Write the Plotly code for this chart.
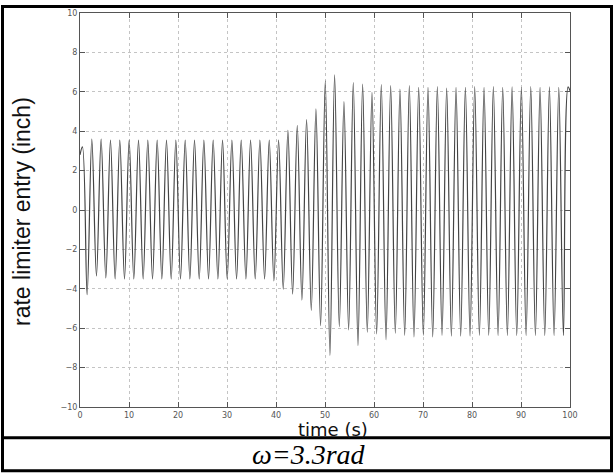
import plotly.graph_objects as go

# Extrema (time in s, value in inch)
start_time = [0.0]
start_value = [2.8]

peak_times = [0.50, 2.41, 4.31, 6.22, 8.12, 10.03, 11.94, 13.84, 15.75, 17.65,
              19.56, 21.47, 23.37, 25.28, 27.18, 29.09, 31.00, 32.90, 34.81, 36.71,
              38.62, 40.53, 42.43, 44.34, 46.24, 48.15, 50.06, 51.96, 53.87, 55.77,
              57.68, 59.59, 61.49, 63.40, 65.30, 67.21, 69.12, 71.02, 72.93, 74.83,
              76.74, 78.65, 80.55, 82.46, 84.36, 86.27, 88.18, 90.08, 91.99, 93.89,
              95.80, 97.71, 99.61]
peak_values = [3.2, 3.6, 3.6, 3.55, 3.55, 3.55, 3.55, 3.55, 3.55, 3.55,
               3.55, 3.55, 3.55, 3.55, 3.55, 3.55, 3.55, 3.55, 3.55, 3.55,
               3.55, 3.55, 4.04, 4.29, 4.59, 5.13, 6.56, 6.86, 5.50, 6.47,
               6.39, 5.97, 6.37, 6.31, 6.14, 6.31, 6.22, 6.22, 6.27, 6.19,
               6.22, 6.22, 6.27, 6.22, 6.27, 6.22, 6.25, 6.22, 6.27, 6.22,
               6.25, 6.22, 6.25]

min_times = [1.45, 3.36, 5.27, 7.17, 9.08, 10.98, 12.89, 14.80, 16.70, 18.61,
             20.51, 22.42, 24.33, 26.23, 28.14, 30.04, 31.95, 33.86, 35.76, 37.67,
             39.57, 41.48, 43.39, 45.29, 47.20, 49.10, 51.01, 52.92, 54.82, 56.73,
             58.63, 60.54, 62.45, 64.35, 66.26, 68.16, 70.07, 71.98, 73.88, 75.79,
             77.69, 79.60, 81.51, 83.41, 85.32, 87.22, 89.13, 91.04, 92.94, 94.85,
             96.75, 98.66]
min_values = [-4.3, -3.35, -3.45, -3.5, -3.5, -3.5, -3.5, -3.5, -3.5, -3.5,
              -3.5, -3.5, -3.5, -3.5, -3.5, -3.5, -3.5, -3.5, -3.5, -3.5,
              -3.6, -4.02, -4.27, -4.57, -5.1, -5.87, -7.38, -5.92, -6.09, -6.88,
              -6.2, -6.29, -6.59, -6.25, -6.36, -6.44, -6.36, -6.44, -6.36, -6.4,
              -6.4, -6.4, -6.36, -6.36, -6.37, -6.37, -6.37, -6.37, -6.37, -6.37,
              -6.37, -6.37]

end_time = [100.0]
end_value = [6.05]

x_ticks = [0, 10, 20, 30, 40, 50, 60, 70, 80, 90, 100]
y_ticks = [-10, -8, -6, -4, -2, 0, 2, 4, 6, 8, 10]

x_title = "time (s)"
y_title = "rate limiter entry (inch)"
caption = "ω=3.3rad"

# interleave extrema into one trace
t = list(start_time)
v = list(start_value)
for i in range(len(peak_times)):
    t.append(peak_times[i]); v.append(peak_values[i])
    if i < len(min_times):
        t.append(min_times[i]); v.append(min_values[i])
t += end_time
v += end_value

fig = go.Figure()
fig.add_trace(go.Scatter(x=t, y=v, mode="lines",
                         line=dict(color="#444444", width=1.2, shape="spline", smoothing=1),
                         showlegend=False, hoverinfo="skip"))

axis_common = dict(showgrid=True, gridcolor="#c4c4c4", griddash="dot", gridwidth=1,
                   zeroline=False, showline=True, linecolor="#555555", linewidth=1,
                   mirror="ticks", ticks="inside", ticklen=5, tickcolor="#555555",
                   tickfont=dict(family="DejaVu Sans", size=8, color="#555555"))

fig.update_xaxes(range=[0, 100], tickvals=x_ticks, **axis_common)
fig.update_yaxes(range=[-10, 10], tickvals=y_ticks, **axis_common)

# map pixel coordinates to paper coordinates (plot area 80..570 x, 9..407 y)
L, R, T, B = 80, 570, 9, 407
def px(xp):
    return (xp - L) / (R - L)
def py(yp):
    return (B - yp) / (B - T)

fig.update_layout(
    width=614, height=474,
    margin=dict(l=L, r=614 - R, t=T, b=474 - B),
    plot_bgcolor="white", paper_bgcolor="white",
    shapes=[
        dict(type="rect", xref="paper", yref="paper",
             x0=px(2.5), x1=px(611.5), y0=py(471.5), y1=py(2.5),
             line=dict(color="black", width=3)),
        dict(type="line", xref="paper", yref="paper",
             x0=px(2.5), x1=px(611.5), y0=py(438), y1=py(438),
             line=dict(color="black", width=3)),
    ],
    annotations=[
        dict(text=y_title, xref="paper", yref="paper", x=px(22), y=py(210),
             textangle=-90, showarrow=False, xanchor="center", yanchor="middle",
             font=dict(family="Liberation Sans, Arial", size=23, color="#111111")),
        dict(text=x_title, xref="paper", yref="paper", x=px(333), y=py(430),
             showarrow=False, xanchor="center", yanchor="middle",
             font=dict(family="DejaVu Sans", size=18, color="#111111")),
        dict(text=caption, xref="paper", yref="paper", x=px(309), y=py(455),
             showarrow=False, xanchor="center", yanchor="middle",
             font=dict(family="Liberation Serif, Times New Roman", size=28, color="black",
                       style="italic")),
    ],
)

fig.write_html("out.html", config={"displayModeBar": False},
               post_script="document.body.style.margin='0';document.body.style.padding='0';")
